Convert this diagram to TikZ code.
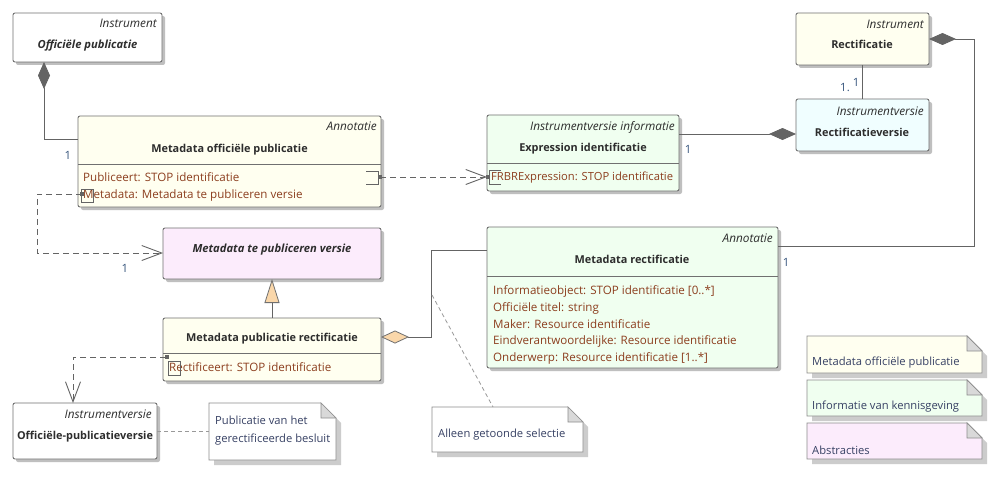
\documentclass[tikz,border=0pt]{standalone}
\usepackage{fontspec}
\setmainfont{Open Sans}
\usetikzlibrary{arrows.meta,shadows,calc}
\definecolor{bord}{RGB}{112,112,112}
\definecolor{conn}{RGB}{100,100,100}
\definecolor{txt}{RGB}{45,45,45}
\definecolor{attrc}{RGB}{140,62,30}
\definecolor{mult}{RGB}{55,85,125}
\definecolor{notetxt}{RGB}{55,65,100}
\definecolor{fyel}{RGB}{255,255,240}
\definecolor{fgrn}{RGB}{240,255,240}
\definecolor{fpnk}{RGB}{252,236,252}
\definecolor{fcyn}{RGB}{240,254,255}
\definecolor{beige}{RGB}{250,215,170}
\definecolor{dia}{RGB}{100,100,100}
\newcommand{\mynote}[6]{%
  \fill[black!20] (#1+5,#2+5) -- (#3+5-15,#2+5) -- (#3+5,#2+5+15) -- (#3+5,#4+5) -- (#1+5,#4+5) -- cycle;
  \filldraw[fill=#5, draw=bord!80, line width=0.7pt] (#1,#2) -- (#3-15,#2) -- (#3,#2+15) -- (#3,#4) -- (#1,#4) -- cycle;
  \filldraw[fill=#6, draw=bord!80, line width=0.7pt] (#3-15,#2) -- (#3-15,#2+15) -- (#3,#2+15) -- cycle;
}
\begin{document}
\begin{tikzpicture}[x=1pt,y=-1pt,
  box/.style={draw=bord, rounded corners=2pt, line width=0.9pt, inner sep=0pt, outer sep=0pt, anchor=north west,
    drop shadow={shadow xshift=3pt,shadow yshift=-3pt,fill=black!25,opacity=1}},
  stereo/.style={font=\fontsize{11.8}{13}\selectfont\itshape, text=txt, anchor=east, inner sep=0pt, text height=8.5pt, text depth=2.5pt},
  cname/.style={font=\fontsize{10.9}{13}\selectfont\bfseries, text=txt, inner sep=0pt, text height=8.5pt, text depth=2.5pt},
  aname/.style={font=\fontsize{11.2}{13}\selectfont\bfseries\itshape, text=txt, inner sep=0pt, text height=8.5pt, text depth=2.5pt},
  attr/.style={font=\fontsize{11.6}{13}\selectfont, text=attrc, anchor=west, inner sep=0pt, text height=8.5pt, text depth=2.5pt},
  mlt/.style={font=\fontsize{11.4}{13}\selectfont, text=mult, inner sep=0pt},
  ntxt/.style={font=\fontsize{11.2}{18}\selectfont, text=notetxt, anchor=west, inner sep=0pt, align=left},
  conline/.style={draw=conn, line width=0.9pt},
  comp/.style={conline, {Diamond[length=27pt,width=12pt,fill=dia,color=dia]}-},
  agg/.style={conline, {Diamond[length=28pt,width=13pt,fill=beige,color=bord,line width=0.8pt]}-},
  dep/.style={conline, dash pattern=on 6pt off 4pt, -{Straight Barb[length=20pt,width=15pt,line width=0.9pt]}},
  gen/.style={conline, -{Triangle[length=24pt,width=15pt,fill=beige,color=bord,line width=0.8pt]}},
  nlink/.style={draw=black!40, line width=0.8pt, dash pattern=on 4pt off 3pt},
  port/.style={draw=conn, line width=0.8pt},
  dot/.style={fill=conn}
]
\useasboundingbox (0,0) rectangle (1000,476);
\fill[white] (0,0) rectangle (1000,476);

% notes (drawn first)
\mynote{209}{403}{336}{460}{white}{black!15}
\mynote{432}{407}{583}{452}{white}{black!15}
\mynote{807}{336}{982}{373}{fyel}{black!15}
\mynote{807}{380}{982}{416}{fgrn}{black!15}
\mynote{807}{423}{982}{459}{fpnk}{black!15}
\node[ntxt] (n1) at (215,431) {Publicatie van het\\gerectificeerde besluit};
\node[ntxt] (n2) at (438,435) {Alleen getoonde selectie};
\node[ntxt] (l1) at (812,363) {Metadata officiële publicatie};
\node[ntxt] (l2) at (812,407) {Informatie van kennisgeving};
\node[ntxt] (l3) at (812,450) {Abstracties};

% boxes
\node[box, fill=white, minimum width=149pt, minimum height=49pt] (A) at (13,13) {};
\node[box, fill=fyel, minimum width=303pt, minimum height=91pt] (B) at (78,116) {};
\node[box, fill=fpnk, minimum width=218pt, minimum height=51pt] (C) at (163,228) {};
\node[box, fill=fyel, minimum width=218pt, minimum height=63pt] (D) at (163,318) {};
\node[box, fill=white, minimum width=144pt, minimum height=56pt] (E) at (13,403) {};
\node[box, fill=fgrn, minimum width=192pt, minimum height=76pt] (F) at (487,115) {};
\node[box, fill=fcyn, minimum width=133pt, minimum height=52pt] (G) at (796,99) {};
\node[box, fill=fyel, minimum width=133pt, minimum height=52pt] (H) at (796,13) {};
\node[box, fill=fgrn, minimum width=291pt, minimum height=141pt] (I) at (487,227) {};

% dividers
\draw[draw=bord, line width=0.8pt] (78,164) -- (381,164);
\draw[draw=bord, line width=0.8pt] (163,353) -- (381,353);
\draw[draw=bord, line width=0.8pt] (487,163) -- (679,163);
\draw[draw=bord, line width=0.8pt] (487,276) -- (778,276);

% texts
\node[stereo] (As) at (157,25) {Instrument};
\node[aname] (An) at (87.5,46) {Officiële publicatie};
\node[stereo] (Bs) at (377,128) {Annotatie};
\node[cname] (Bn) at (229.5,149) {Metadata officiële publicatie};
\node[attr] (Ba1) at (83,178) {Publiceert: STOP identificatie};
\node[attr] (Ba2) at (83,195) {Metadata: Metadata te publiceren versie};
\node[aname] (Cn) at (272,249) {Metadata te publiceren versie};
\node[cname] (Dn) at (272,338) {Metadata publicatie rectificatie};
\node[attr] (Da1) at (169,368) {Rectificeert: STOP identificatie};
\node[stereo] (Es) at (152,415) {Instrumentversie};
\node[cname] (En) at (85,436) {Officiële-publicatieversie};
\node[stereo] (Fs) at (675,127) {Instrumentversie informatie};
\node[cname] (Fn) at (583,148) {Expression identificatie};
\node[attr, font=\fontsize{11.2}{13}\selectfont] (Fa1) at (491,177) {FRBRExpression: STOP identificatie};
\node[stereo] (Gs) at (924,112) {Instrumentversie};
\node[cname] (Gn) at (862,133) {Rectificatieversie};
\node[stereo] (Hs) at (924,26) {Instrument};
\node[cname] (Hn) at (862,46) {Rectificatie};
\node[stereo] (Is) at (773,239) {Annotatie};
\node[cname] (In) at (632,260) {Metadata rectificatie};
\node[attr] (Ia1) at (493,291) {Informatieobject: STOP identificatie [0..*]};
\node[attr] (Ia2) at (493,308) {Officiële titel: string};
\node[attr] (Ia3) at (493,325) {Maker: Resource identificatie};
\node[attr] (Ia4) at (493,341) {Eindverantwoordelijke: Resource identificatie};
\node[attr] (Ia5) at (493,358) {Onderwerp: Resource identificatie [1..*]};

% coordinates
\coordinate (a1) at (44,139);
\coordinate (b1) at (82,194);
\coordinate (b2) at (37,253);
\coordinate (d1) at (166,357);
\coordinate (e1) at (73,403);
\coordinate (p1) at (380,177);
\coordinate (g1) at (796,134);
\coordinate (h3) at (974,246);
\coordinate (d2) at (381,337);
\coordinate (k1) at (431,250);
\coordinate (k2) at (432,295);
\coordinate (k3) at (493,407);
\coordinate (m1) at (157,431);
\coordinate (m2) at (209,431);

% connectors
\draw[comp] (A.south -| a1) |- (B.west |- a1);
\draw[dep] (b1) -| (b2) -- (C.west |- b2);
\draw[gen] (D.north) -- (C.south);
\draw[dep] (d1) -| (e1);
\draw[dep] (p1) -- (F.west |- p1);
\draw[comp] (g1) -- (F.east |- g1);
\draw[conline] (H.south) -- (G.north);
\draw[comp] (H.east) -| (h3) -- (I.east |- h3);
\draw[agg] (d2) -| (k1) -- (I.west |- k1);
\draw[nlink] (k2) -- (k3);
\draw[nlink] (m1) -- (m2);

% ports
\draw[port] (81,189) rectangle (93,202);
\fill[dot] (80,192) rectangle (84,196);
\draw[port] (366,171) -- (378,171) -- (378,184) -- (366,184);
\fill[dot] (378,175) rectangle (382,179);
\draw[port] (501,170) -- (489,170) -- (489,184) -- (501,184);
\fill[dot] (486,175) rectangle (490,179);
\draw[port] (168,361) rectangle (180,375);
\fill[dot] (165,355) rectangle (169,359);

% multiplicities
\node[mlt] (m-a) at (68,155) {1};
\node[mlt] (m-c) at (125,268) {1};
\node[mlt] (m-f) at (688,149) {1};
\node[mlt] (m-h1) at (845,88) {1.};
\node[mlt] (m-h2) at (856,82) {1};
\node[mlt] (m-i) at (786,262) {1};
\end{tikzpicture}
\end{document}
